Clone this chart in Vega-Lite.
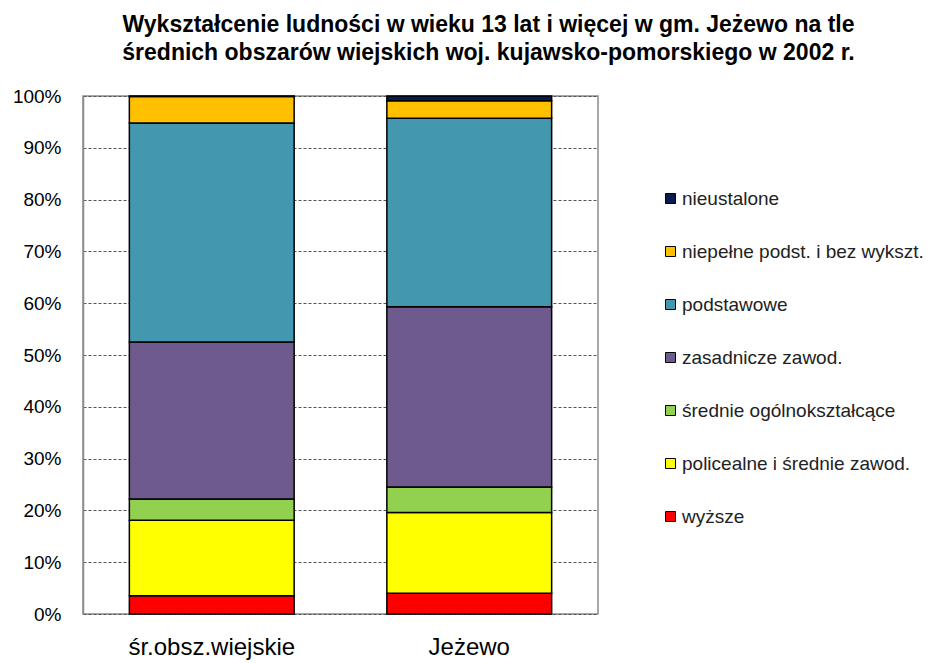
{
  "$schema": "https://vega.github.io/schema/vega-lite/v6.json",
  "width": 515,
  "height": 518,
  "autosize": {"type": "none"},
  "padding": {"left": 83, "top": 96, "right": 332, "bottom": 49},
  "background": "white",
  "title": {
    "text": ["Wykształcenie ludności w wieku 13 lat i więcej w gm. Jeżewo na tle", "średnich obszarów wiejskich woj. kujawsko-pomorskiego w 2002 r."],
    "font": "Liberation Sans",
    "fontSize": 23,
    "fontWeight": "bold",
    "color": "black",
    "anchor": "middle",
    "frame": "group",
    "dx": 148,
    "offset": 22,
    "lineHeight": 28
  },
  "data": {
    "values": [
      {"obszar": "śr.obsz.wiejskie", "kat": "wyższe", "ord": 1, "v": 0.035},
      {"obszar": "śr.obsz.wiejskie", "kat": "policealne i średnie zawod.", "ord": 2, "v": 0.146},
      {"obszar": "śr.obsz.wiejskie", "kat": "średnie ogólnokształcące", "ord": 3, "v": 0.041},
      {"obszar": "śr.obsz.wiejskie", "kat": "zasadnicze zawod.", "ord": 4, "v": 0.303},
      {"obszar": "śr.obsz.wiejskie", "kat": "podstawowe", "ord": 5, "v": 0.423},
      {"obszar": "śr.obsz.wiejskie", "kat": "niepełne podst. i bez wykszt.", "ord": 6, "v": 0.051},
      {"obszar": "śr.obsz.wiejskie", "kat": "nieustalone", "ord": 7, "v": 0.001},
      {"obszar": "Jeżewo", "kat": "wyższe", "ord": 1, "v": 0.040},
      {"obszar": "Jeżewo", "kat": "policealne i średnie zawod.", "ord": 2, "v": 0.156},
      {"obszar": "Jeżewo", "kat": "średnie ogólnokształcące", "ord": 3, "v": 0.049},
      {"obszar": "Jeżewo", "kat": "zasadnicze zawod.", "ord": 4, "v": 0.348},
      {"obszar": "Jeżewo", "kat": "podstawowe", "ord": 5, "v": 0.364},
      {"obszar": "Jeżewo", "kat": "niepełne podst. i bez wykszt.", "ord": 6, "v": 0.034},
      {"obszar": "Jeżewo", "kat": "nieustalone", "ord": 7, "v": 0.009}
    ]
  },
  "config": {
    "view": {"stroke": "#8c8c8c", "strokeWidth": 1.5},
    "font": "Liberation Sans"
  },
  "mark": {"type": "bar", "stroke": "black", "strokeWidth": 1.5},
  "encoding": {
    "x": {
      "field": "obszar",
      "type": "nominal",
      "sort": ["śr.obsz.wiejskie", "Jeżewo"],
      "scale": {"paddingInner": 0.36, "paddingOuter": 0.18},
      "axis": {
        "title": null,
        "labelAngle": 0,
        "labelFont": "Liberation Sans",
        "labelFontSize": 24,
        "labelColor": "black",
        "labelPadding": 21,
        "ticks": false,
        "domain": false
      }
    },
    "y": {
      "field": "v",
      "type": "quantitative",
      "stack": "zero",
      "scale": {"domain": [0, 1], "nice": false},
      "axis": {
        "title": null,
        "format": ".0%",
        "values": [0, 0.1, 0.2, 0.3, 0.4, 0.5, 0.6, 0.7, 0.8, 0.9, 1],
        "labelFont": "Liberation Sans",
        "labelFontSize": 19,
        "labelColor": "black",
        "labelPadding": 22,
        "ticks": false,
        "domainColor": "#8c8c8c",
        "domainWidth": 1.5,
        "grid": true,
        "gridColor": "#555555",
        "gridDash": [3, 2],
        "gridWidth": 1
      }
    },
    "color": {
      "field": "kat",
      "type": "nominal",
      "scale": {
        "domain": ["nieustalone", "niepełne podst. i bez wykszt.", "podstawowe", "zasadnicze zawod.", "średnie ogólnokształcące", "policealne i średnie zawod.", "wyższe"],
        "range": ["#0b1a4d", "#ffc000", "#4397ae", "#6f5a8e", "#92d050", "#ffff00", "#ff0000"]
      },
      "legend": {
        "title": null,
        "orient": "none",
        "legendX": 578,
        "legendY": 93,
        "symbolType": "square",
        "symbolSize": 100,
        "symbolStrokeColor": "black",
        "symbolStrokeWidth": 1,
        "labelFont": "Liberation Sans",
        "labelFontSize": 19,
        "labelColor": "#222222",
        "labelOffset": 2,
        "rowPadding": 33,
        "labelLimit": 300
      }
    },
    "order": {"field": "ord", "type": "quantitative"}
  }
}
